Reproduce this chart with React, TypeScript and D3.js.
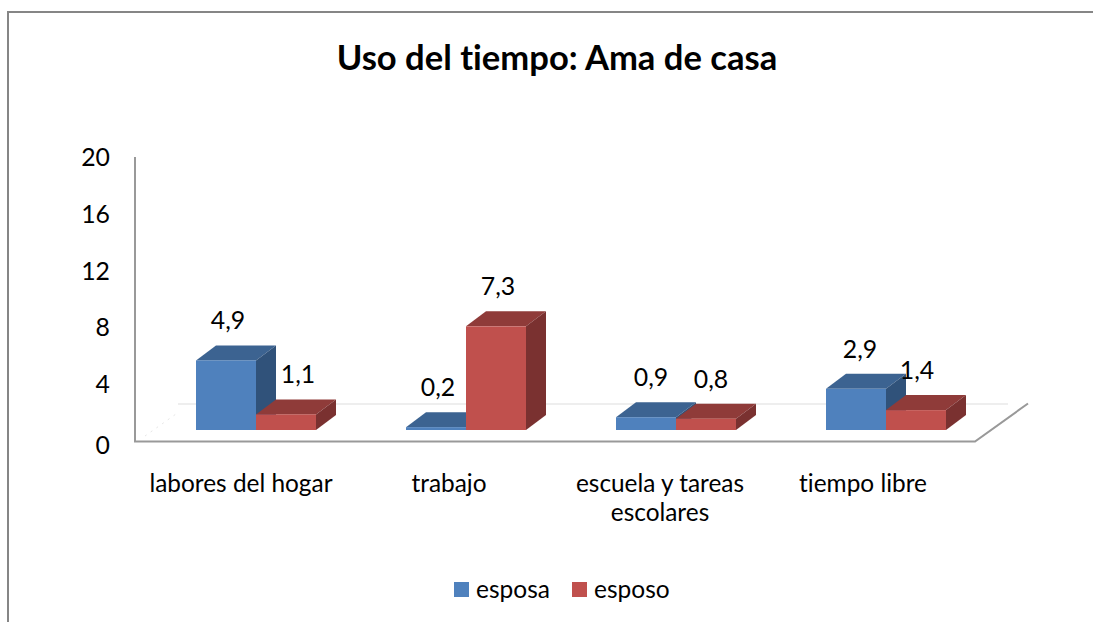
import React from "react";
import * as d3 from "d3";

const categories = ["labores del hogar", "trabajo", "escuela y tareas|escolares", "tiempo libre"];
const seriesNames = ["esposa", "esposo"];
const esposa = [4.9, 0.2, 0.9, 2.9];
const esposo = [1.1, 7.3, 0.8, 1.4];
const ticks = [0, 4, 8, 12, 16, 20];
const title = "Uso del tiempo: Ama de casa";

const FONT = "Lato, Carlito, sans-serif";
const palette = [
  { front: "#4f81bd", top: "#3c6391", side: "#30527a" },
  { front: "#c0504d", top: "#8f3b39", side: "#7a3130" },
];
const DX = 20, DY = -15;
const BAR_W = 60;
const labelNudge = [
  [2, 12],
  [2, 2],
  [5, 5],
  [4, 1],
];
const catCenters = [241, 449, 660, 863];

export default function App() {
  const yAxis = d3.scaleLinear().domain([0, 20]).range([441, 157]);
  const yBar = d3.scaleLinear().domain([0, 20]).range([430, 146]);
  const xGroup = d3.scaleLinear().domain([0, 3]).range([196, 826]);
  const series = [esposa, esposo];
  const bars = categories.flatMap((_, i) =>
    series.map((vals, s) => ({ i, s, v: vals[i], x: xGroup(i) + s * BAR_W, y: yBar(vals[i]) }))
  );
  return (
    <svg width={1093} height={622} style={{ position: "absolute", left: 0, top: 0, background: "#fff", fontVariantLigatures: "none" }} fontFamily={FONT}>
      <path d="M8 622V12H1093" fill="none" stroke="#868686" strokeWidth={2} />
      <text x={557} y={70} textAnchor="middle" fontSize={34.6} fontWeight={700} fill="#000">{title}</text>

      <line x1={178} x2={1008} y1={404} y2={404} stroke="#e8e8e8" strokeWidth={1.5} />
      <path d="M145 436L176 414" stroke="#e6e6e6" strokeWidth={1} strokeDasharray="2 5" fill="none" />
      <path d="M135 157V441.5H975L1028 403.5" fill="none" stroke="#999" strokeWidth={2} />

      {ticks.map((t) => (
        <text key={t} x={110} y={yAxis(t) + 9 + (t === 0 ? 4 : 0)} textAnchor="end" fontSize={24.8} fill="#000">{t}</text>
      ))}

      {bars.map((b) => {
        const c = palette[b.s];
        const x0 = b.x, x1 = b.x + BAR_W, y0 = b.y, y1 = yBar(0);
        return (
          <g key={`${b.i}-${b.s}`}>
            <path d={`M${x0} ${y0}L${x0 + DX} ${y0 + DY}H${x1 + DX}L${x1} ${y0}Z`} fill={c.top} />
            <path d={`M${x1} ${y0}L${x1 + DX} ${y0 + DY}V${y1 + DY}L${x1} ${y1}Z`} fill={c.side} />
            <rect x={x0} y={y0} width={BAR_W} height={y1 - y0} fill={c.front} />
          </g>
        );
      })}

      {bars.map((b) => (
        <text key={`l${b.i}-${b.s}`} x={b.x + BAR_W / 2 + labelNudge[b.i][b.s]} y={b.y - 31} textAnchor="middle" fontSize={24.8} fill="#000">
          {String(b.v).replace(".", ",")}
        </text>
      ))}

      {categories.map((c, i) =>
        c.split("|").map((line, k) => (
          <text key={`${i}-${k}`} x={catCenters[i]} y={492 + k * 29} textAnchor="middle" fontSize={24.4} fill="#000">{line}</text>
        ))
      )}

      {seriesNames.map((n, s) => {
        const x = s === 0 ? 454 : 572;
        return (
          <g key={n}>
            <rect x={x} y={582} width={15} height={15} fill={palette[s].front} />
            <text x={x + 22} y={598} fontSize={24.5} fill="#000">{n}</text>
          </g>
        );
      })}
    </svg>
  );
}
